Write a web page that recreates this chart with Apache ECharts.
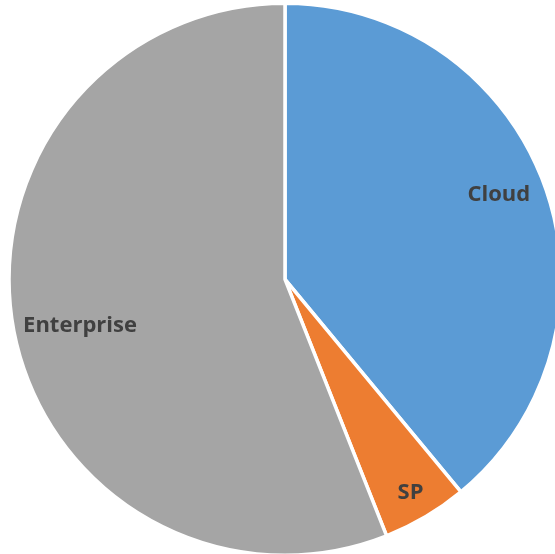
<!DOCTYPE html>
<html>
<head>
<meta charset="utf-8">
<script src="https://cdn.jsdelivr.net/npm/echarts@6/dist/echarts.min.js"></script>
<style>
html,body{margin:0;padding:0;background:#fff;}
#c{width:555px;height:554px;}
</style>
</head>
<body>
<div id="c"></div>
<script>
var categories = ['Cloud', 'SP', 'Enterprise'];
var values = [39, 5, 56];

var colors = ['#5B9BD5', '#ED7D31', '#A5A5A5'];
// label placement: [radius ratio, compass angle in degrees]
var labelPlace = [[0.838, 68.5], [0.902, 149.5], [0.766, 257.3]];
var CX = 285, CY = 279.3, R = 276, RL = 274.3;

var chart = echarts.init(document.getElementById('c'), null, {renderer: 'canvas'});
chart.setOption({
  backgroundColor: '#ffffff',
  animation: false,
  series: [{
    type: 'pie',
    center: [CX, CY],
    radius: [0, R],
    startAngle: 90,
    clockwise: true,
    avoidLabelOverlap: false,
    emphasis: {disabled: true},
    itemStyle: {borderColor: '#ffffff', borderWidth: 3.5},
    label: {
      show: true,
      position: 'inside',
      formatter: '{b}',
      color: '#404040',
      fontFamily: 'Open Sans',
      fontWeight: 'bold',
      fontSize: 22
    },
    labelLine: {show: false},
    labelLayout: function (p) {
      var lp = labelPlace[p.dataIndex];
      var a = lp[1] * Math.PI / 180;
      return {
        x: CX + lp[0] * RL * Math.sin(a),
        y: CY - lp[0] * RL * Math.cos(a),
        align: 'center',
        verticalAlign: 'middle'
      };
    },
    data: categories.map(function (c, i) {
      return {name: c, value: values[i], itemStyle: {color: colors[i]}};
    })
  }]
});
</script>
</body>
</html>
